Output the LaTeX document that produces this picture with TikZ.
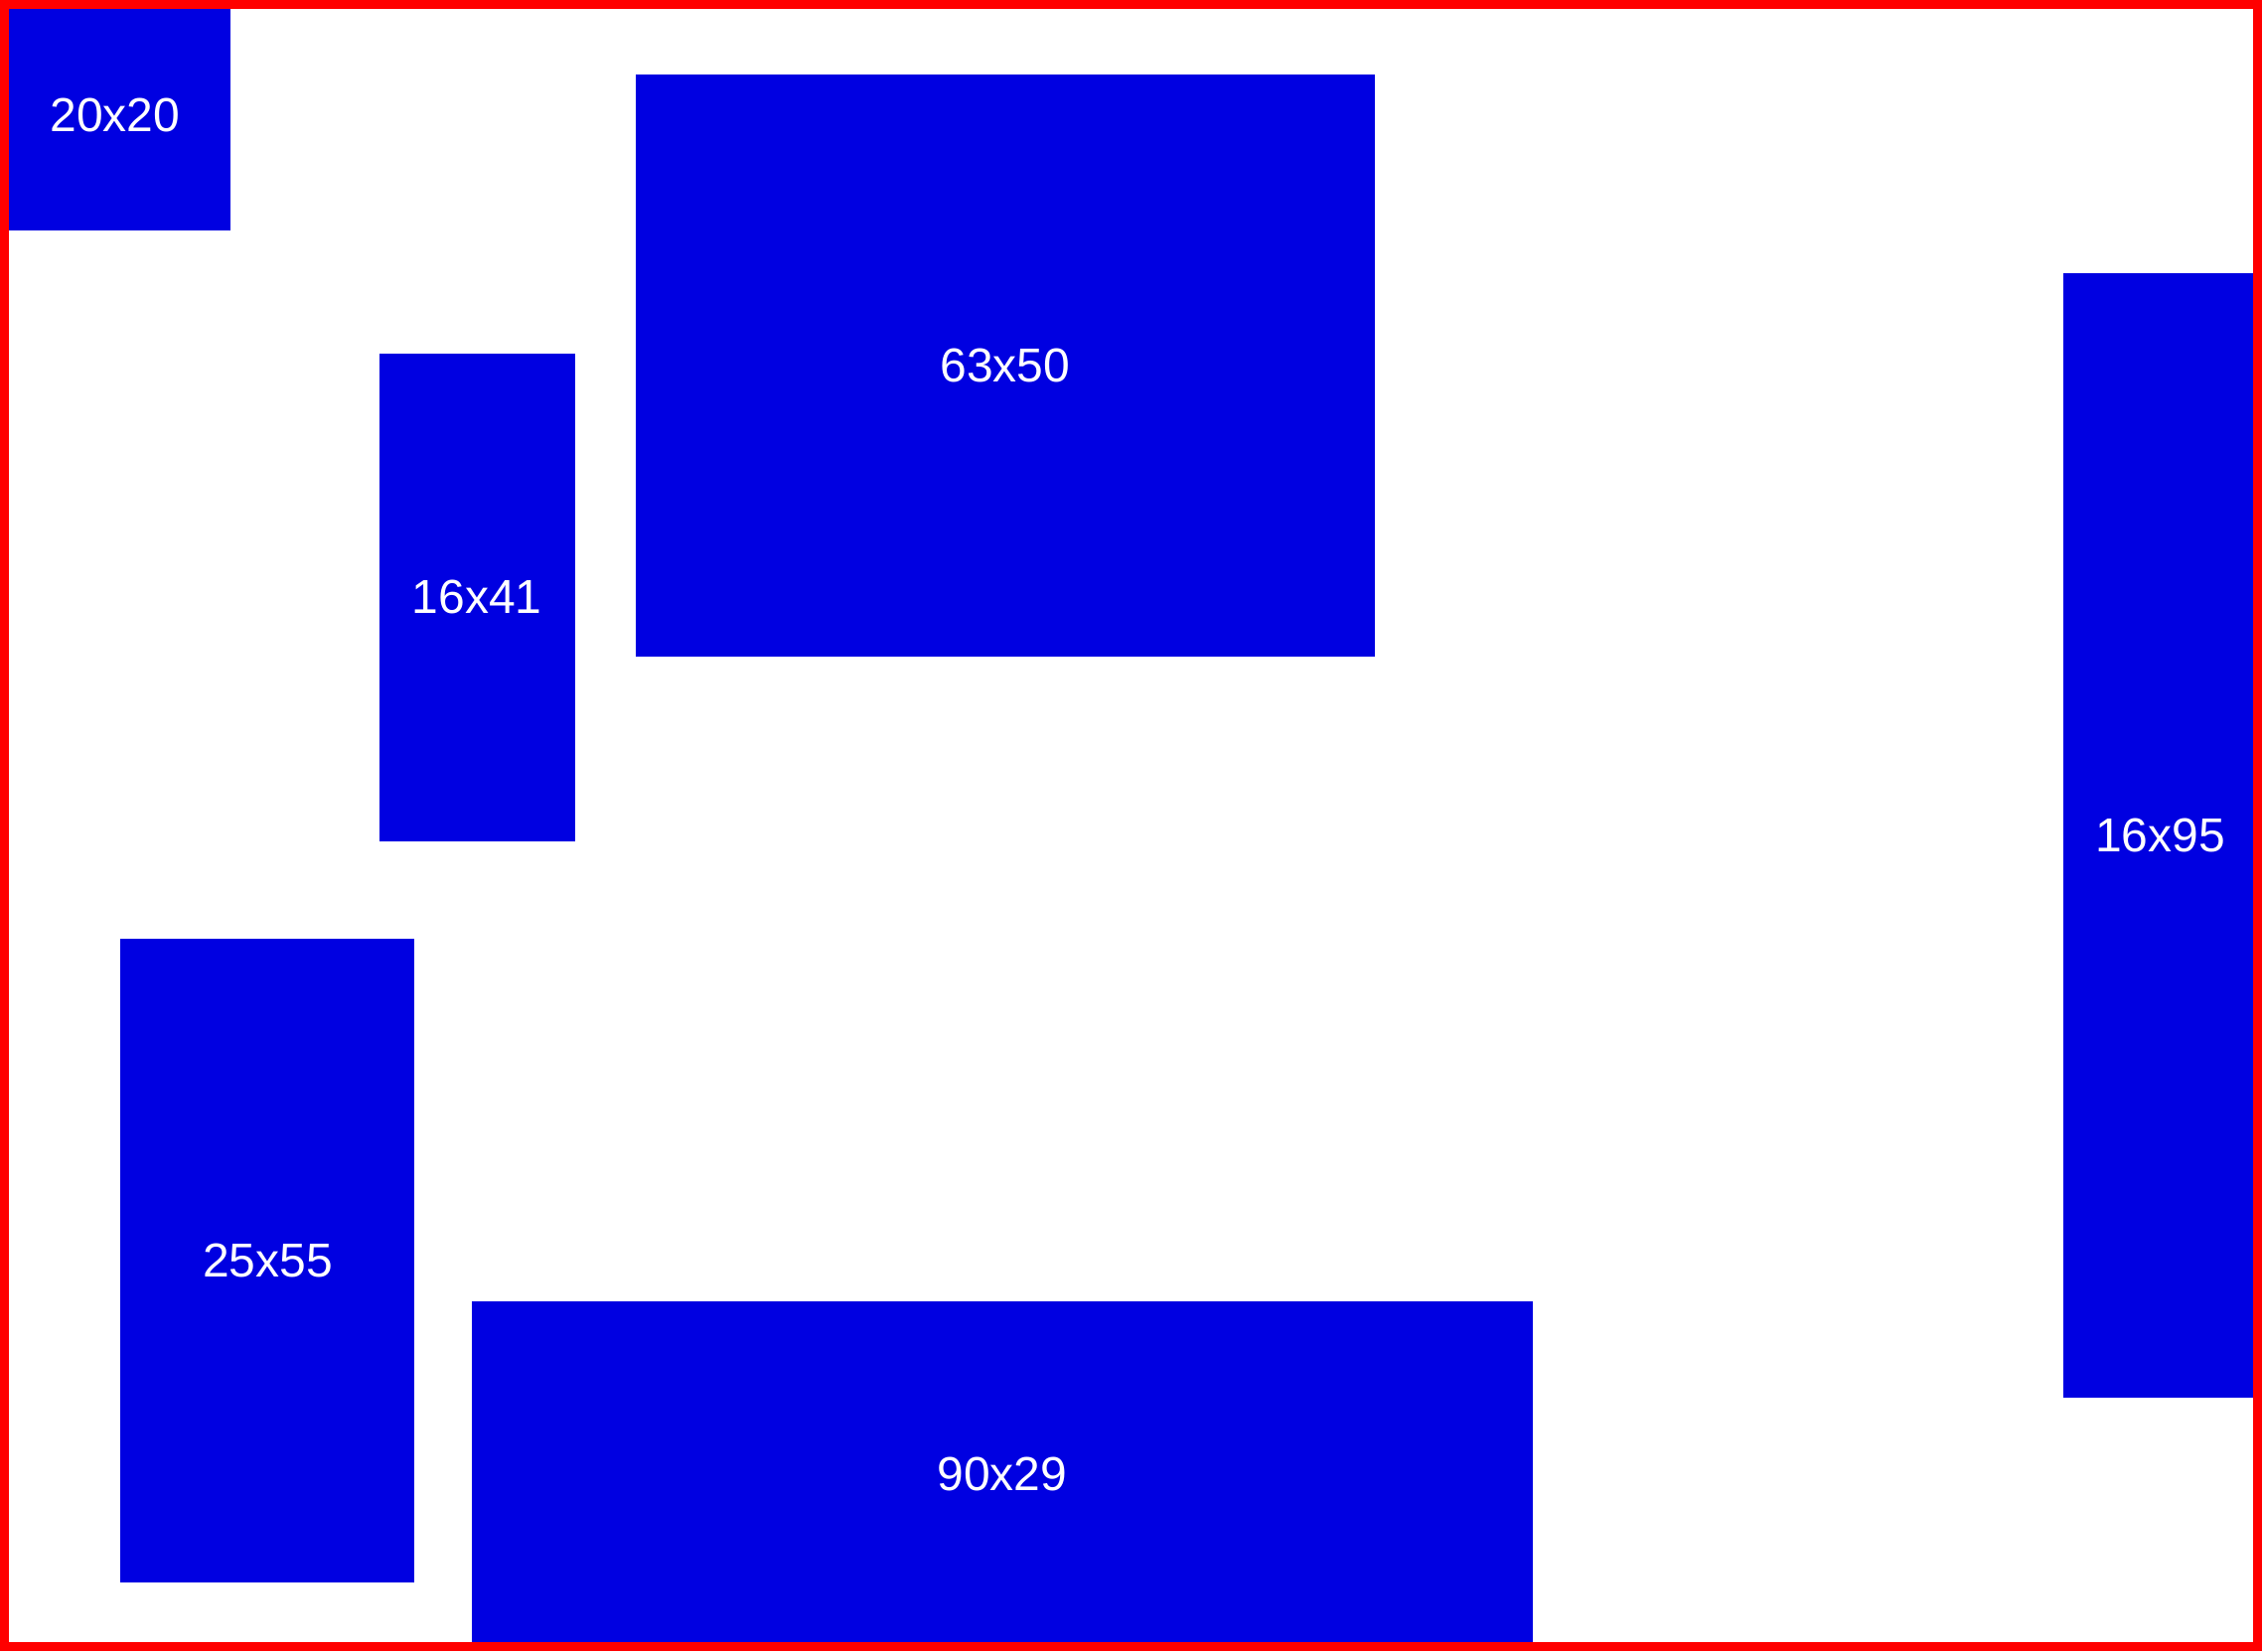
\documentclass[tikz,border=0pt]{standalone}
\usepackage{fontspec}
\setmainfont{Liberation Sans}
\definecolor{boxblue}{RGB}{0,0,225}
\begin{document}
\begin{tikzpicture}[x=1pt,y=-1pt,
  box/.style={fill=boxblue, draw=none, inner sep=0pt, text=white,
    font=\fontsize{48}{58}\selectfont, anchor=center}]
\useasboundingbox (0,0) rectangle (2277,1662);
\node[box, minimum width=232pt, minimum height=232pt] (a) at (116,116) {20x20};
\node[box, minimum width=744pt, minimum height=586pt] (b) at (1012,367.7) {63x50};
\node[box, minimum width=197pt, minimum height=490.7pt] (c) at (480.1,601.3) {16x41};
\node[box, minimum width=195pt, minimum height=1132pt] (d) at (2174.5,841) {16x95};
\node[box, minimum width=296pt, minimum height=648.4pt] (e) at (269.4,1268.8) {25x55};
\node[box, minimum width=1068.5pt, minimum height=348pt] (f) at (1008.8,1484) {90x29};
\draw[red, line width=9pt] (4.5,4.5) rectangle (2272.5,1657.5);
\end{tikzpicture}
\end{document}
